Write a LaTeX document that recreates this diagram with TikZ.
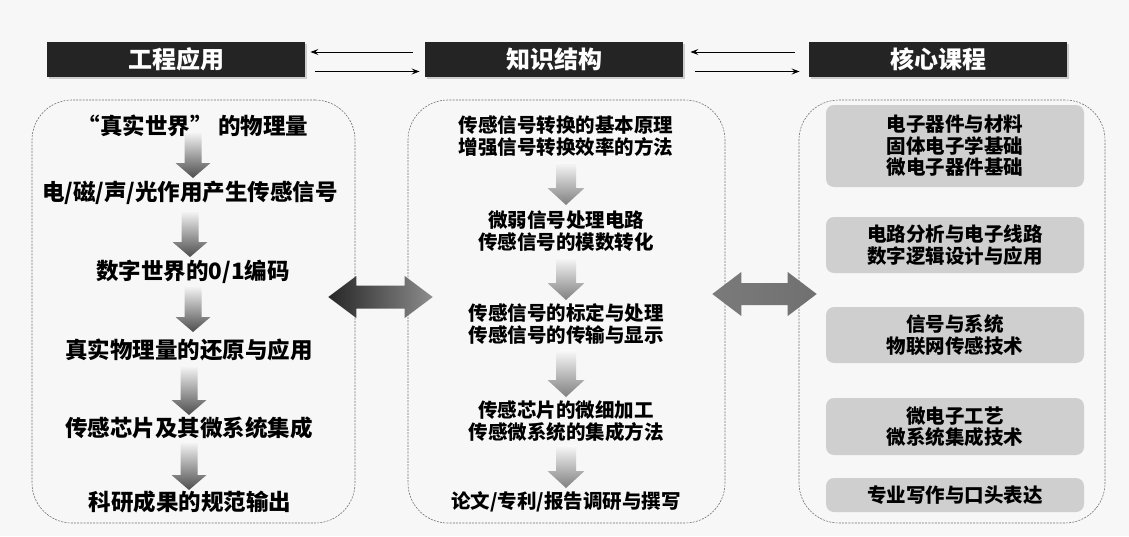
\documentclass[tikz,border=0pt]{standalone}
\usepackage{fontspec}
\setmainfont{Noto Sans CJK SC}
\usetikzlibrary{arrows.meta, calc, shadows}

% fat arrow pointing down, from node #1 to node #2
% #3 top offset, #4 bottom offset, #5 shaft half width, #6 head half width, #7 head length, #8 shading
\newcommand\fatdown[8]{%
  \path[#8] let \p1=(#1.center), \p2=(#2.center) in
    (\x1-#5pt,\y1-#3pt) -- (\x1+#5pt,\y1-#3pt) -- (\x1+#5pt,\y2+#4pt+#7pt)
    -- (\x1+#6pt,\y2+#4pt+#7pt) -- (\x1,\y2+#4pt) -- (\x1-#6pt,\y2+#4pt+#7pt)
    -- (\x1-#5pt,\y2+#4pt+#7pt) -- cycle;}

\tikzset{
  hdr/.style={fill=black!86, text=white, font=\bfseries\fontsize{24}{28}\selectfont,
    minimum width=258pt, minimum height=35pt, inner sep=0pt,
    drop shadow={shadow xshift=2pt, shadow yshift=-2pt, opacity=0.35, fill=black!50}},
  frame/.style={draw=black!55, dash pattern=on 2pt off 1.2pt, line width=0.6pt,
    rounded corners=40pt, inner sep=0pt},
  lefttxt/.style={font=\bfseries\fontsize{22.5}{26}\selectfont, inner sep=0pt},
  midtxt/.style={font=\bfseries\fontsize{19.5}{22}\selectfont, align=center, inner sep=0pt},
  course/.style={fill=black!19, rounded corners=8pt, minimum width=258pt, align=center,
    font=\bfseries\fontsize{19.5}{21.5}\selectfont, inner sep=0pt},
  leftshade/.style={top color=black!5, bottom color=black!70},
  midshade/.style={top color=black!2, bottom color=black!50},
}

\begin{document}
\begin{tikzpicture}[x=1pt, y=-1pt, >={Stealth[length=8pt, width=6pt, inset=3pt]}, line width=0.9pt]
  \useasboundingbox (0,0) rectangle (1129,536);
  \fill[black!3] (0,0) rectangle (1129,536);

  % ===== Cabeceras =====
  \node[hdr] (hdrApp)  at (176,59.5) {工程应用};
  \node[hdr] (hdrKnow) at (554,59.5) {知识结构};
  \node[hdr] (hdrCore) at (938,59.5) {核心课程};
  \draw[->] ($(hdrKnow.west)+(-12,-7.5)$) -- ($(hdrApp.east)+(5,-7.5)$);
  \draw[->] ($(hdrApp.east)+(10,12)$) -- ($(hdrKnow.west)+(-5,12)$);
  \draw[->] ($(hdrCore.west)+(-14,-7.5)$) -- ($(hdrKnow.east)+(7,-7.5)$);
  \draw[->] ($(hdrKnow.east)+(12,12)$) -- ($(hdrCore.west)+(-9,12)$);

  % ===== Marcos =====
  \node[frame, minimum width=323pt, minimum height=423pt] (boxL) at (193.5,311.5) {};
  \node[frame, minimum width=317pt, minimum height=423pt] (boxM) at (566.5,311.5) {};
  \node[frame, minimum width=306pt, minimum height=423pt] (boxR) at (952,311.5) {};

  % ===== Columna izquierda =====
  \node[lefttxt] (l1) at (193,126) {“真实世界” 的物理量};
  \node[lefttxt] (l2) at (190,193) {电/磁/声/光作用产生传感信号};
  \node[lefttxt] (l3) at (193,272) {数字世界的0/1编码};
  \node[lefttxt] (l4) at (189,350) {真实物理量的还原与应用};
  \node[lefttxt] (l5) at (189,428) {传感芯片及其微系统集成};
  \node[lefttxt] (l6) at (190,502) {科研成果的规范输出};
  \foreach \a/\b/\t/\u in {l1/l2/7/15, l2/l3/19/15, l3/l4/15/18, l4/l5/17/13, l5/l6/15/12}
    \fatdown{\a}{\b}{\t}{\u}{8.5}{17.5}{15}{leftshade};

  % ===== Columna central =====
  \node[midtxt] (m1) at (566,136) {传感信号转换的基本原理\\增强信号转换效率的方法};
  \node[midtxt] (m2) at (566,231) {微弱信号处理电路\\传感信号的模数转化};
  \node[midtxt] (m3) at (566,324) {传感信号的标定与处理\\传感信号的传输与显示};
  \node[midtxt] (m4) at (566,421) {传感芯片的微细加工\\传感微系统的集成方法};
  \node[midtxt] (m5) at (566,502) {论文/专利/报告调研与撰写};
  \foreach \a/\b/\t/\u in {m1/m2/26/26, m2/m3/26/24, m3/m4/26/24, m4/m5/24/14}
    \fatdown{\a}{\b}{\t}{\u}{10}{18.5}{17}{midshade};

  % ===== Columna derecha =====
  \node[course, minimum height=82pt] (r1) at (955,146) {电子器件与材料\\固体电子学基础\\微电子器件基础};
  \node[course, minimum height=56pt] (r2) at (955,245) {电路分析与电子线路\\数字逻辑设计与应用};
  \node[course, minimum height=56pt] (r3) at (955,335) {信号与系统\\物联网传感技术};
  \node[course, minimum height=57pt] (r4) at (955,426.5) {微电子工艺\\微系统集成技术};
  \node[course, minimum height=34pt] (r5) at (955,495) {专业写作与口头表达};

  % ===== Flechas dobles =====
  \path[left color=black!85, right color=black!45]
    let \p1=($(boxL.east)+(0,-14.5)$), \p2=(boxM.west) in
    (\x1-27pt,\y1) -- (\x1+1pt,\y1+21pt) -- (\x1+1pt,\y1+11.5pt) -- (\x2-3pt,\y1+11.5pt)
    -- (\x2-3pt,\y1+21pt) -- (\x2+25pt,\y1) -- (\x2-3pt,\y1-21pt) -- (\x2-3pt,\y1-11.5pt)
    -- (\x1+1pt,\y1-11.5pt) -- (\x1+1pt,\y1-21pt) -- cycle;
  \path[left color=black!52, right color=black!56]
    let \p1=($(boxM.east)+(0,-17.5)$), \p2=(boxR.west) in
    (\x1-13pt,\y1) -- (\x1+16pt,\y1+22pt) -- (\x1+16pt,\y1+11pt) -- (\x2-11pt,\y1+11pt)
    -- (\x2-11pt,\y1+22pt) -- (\x2+18pt,\y1) -- (\x2-11pt,\y1-22pt) -- (\x2-11pt,\y1-11pt)
    -- (\x1+16pt,\y1-11pt) -- (\x1+16pt,\y1-22pt) -- cycle;
\end{tikzpicture}
\end{document}
